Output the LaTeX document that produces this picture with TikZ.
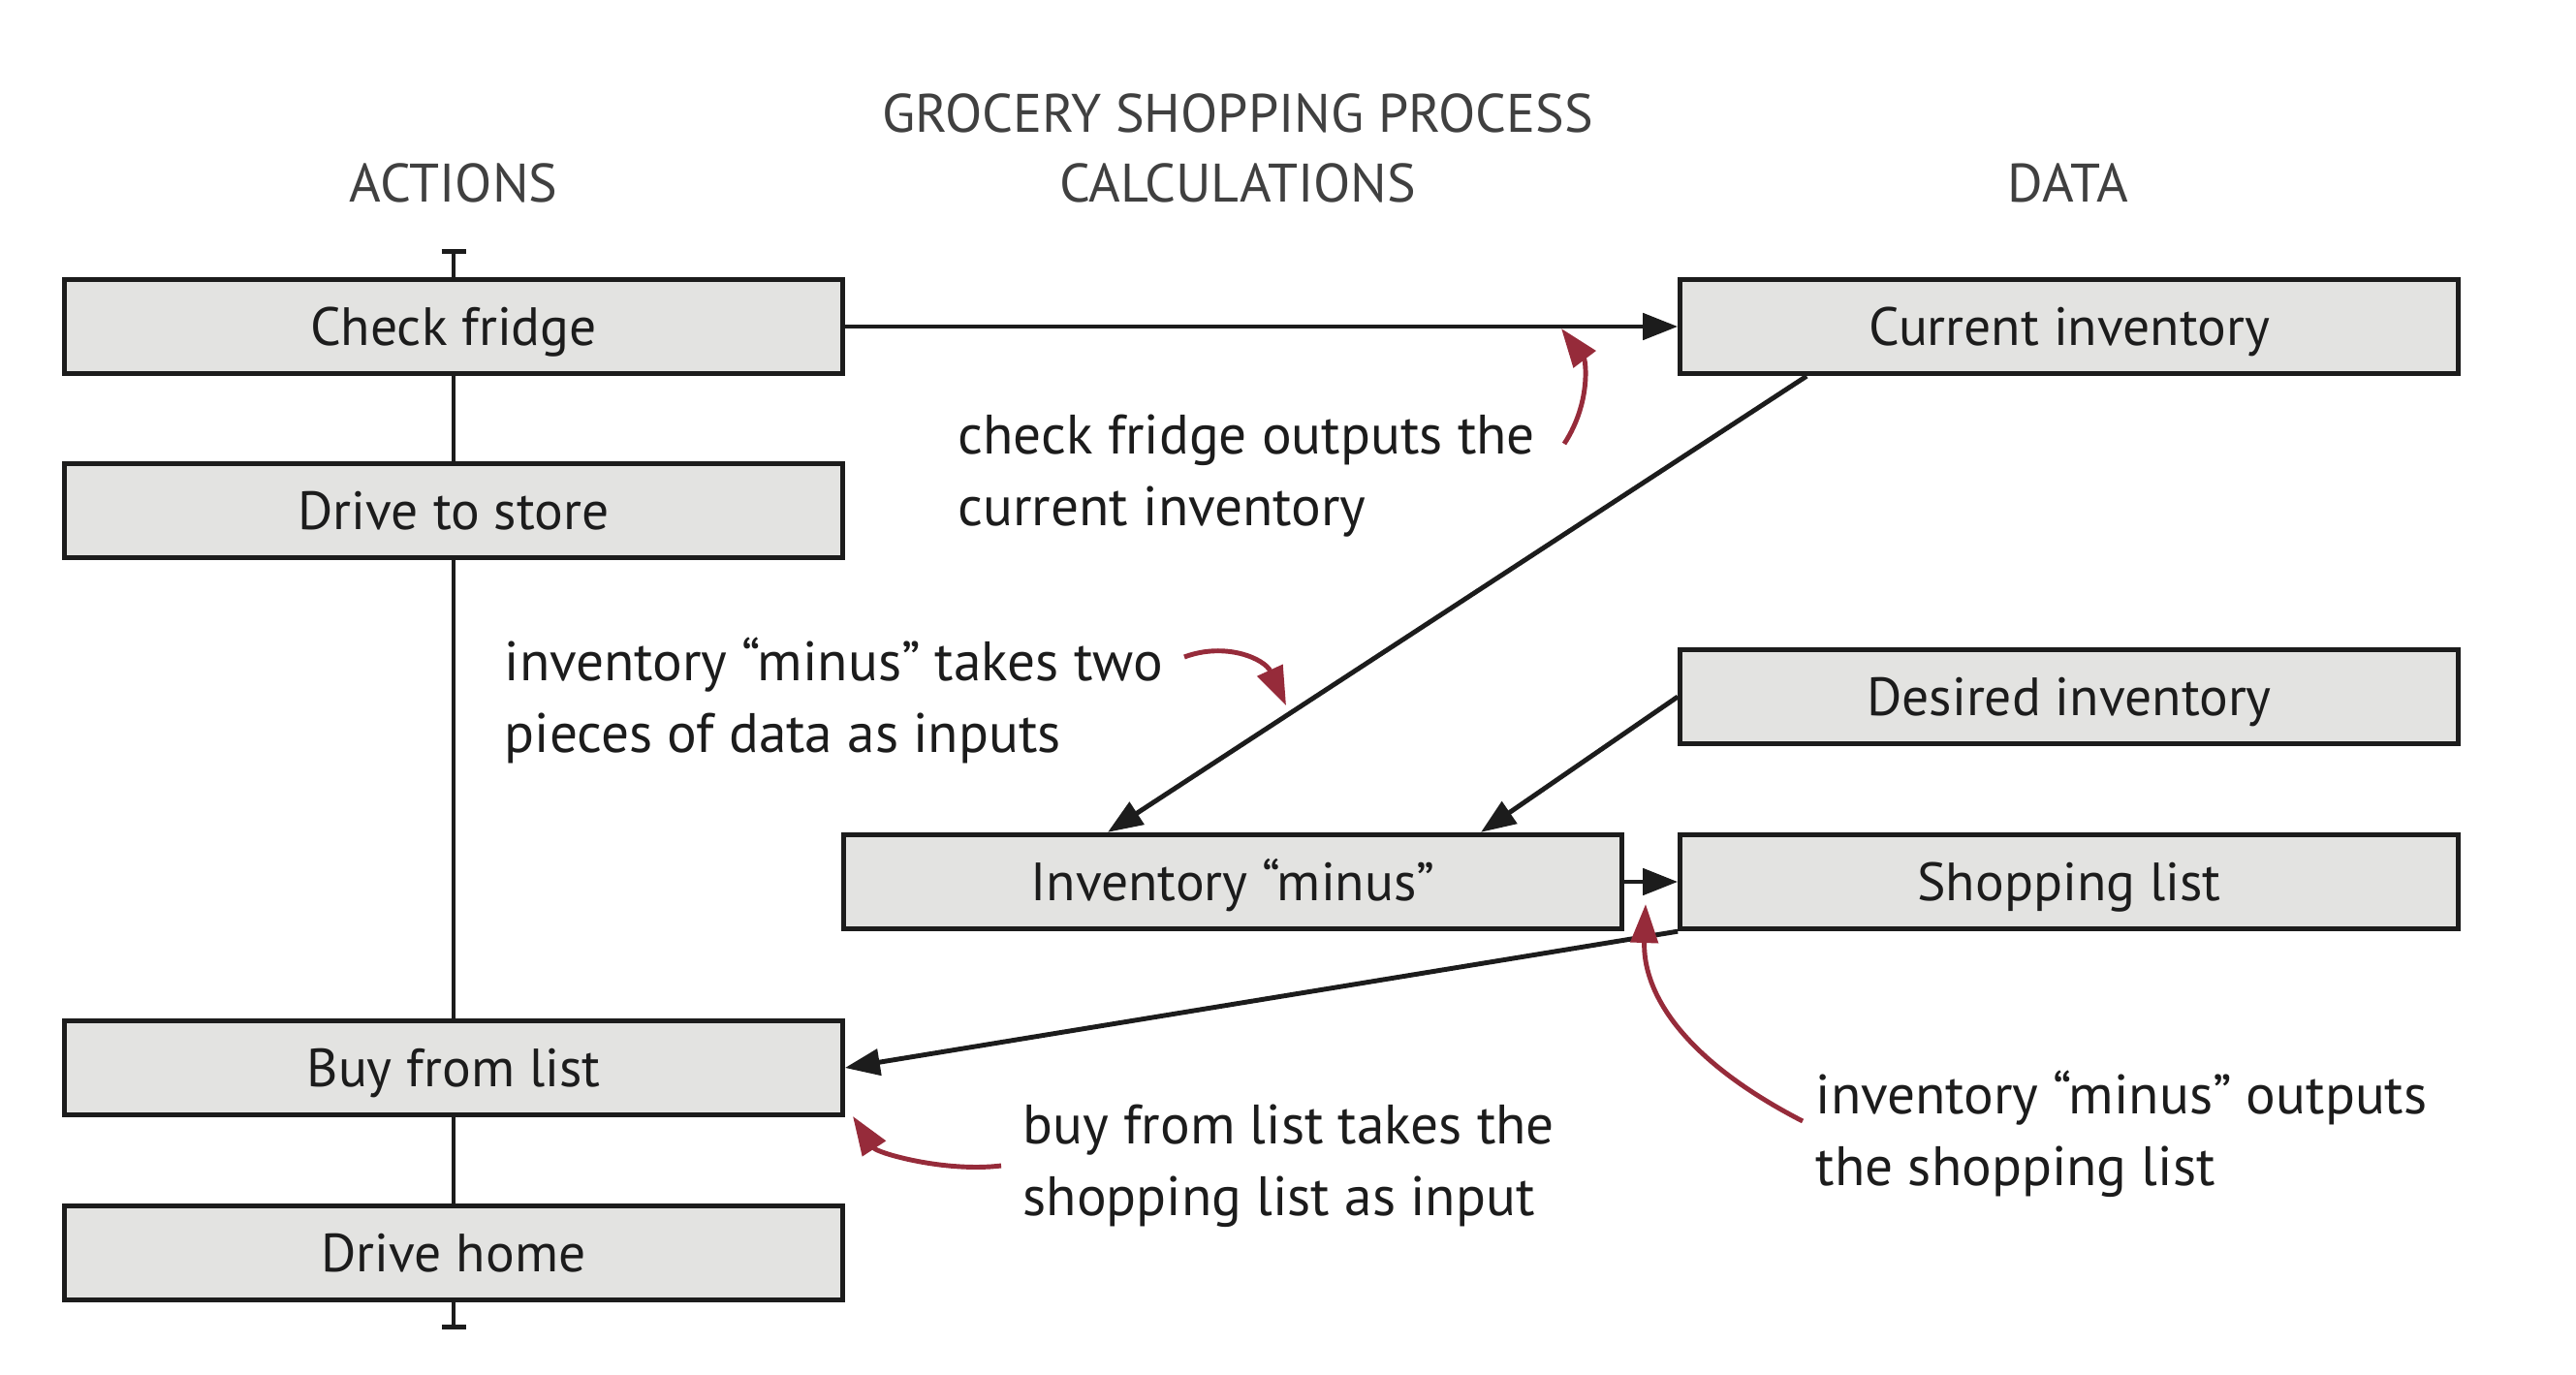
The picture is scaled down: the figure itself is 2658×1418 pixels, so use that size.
\documentclass[tikz,border=0pt]{standalone}
\usepackage{fontspec}
\setmainfont{PT Sans}
\usetikzlibrary{arrows.meta,calc}
\definecolor{boxfill}{HTML}{E3E3E1}
\definecolor{boxline}{HTML}{1C1C1C}
\definecolor{notered}{HTML}{962B3A}
\definecolor{headgray}{HTML}{404040}
\begin{document}
\begin{tikzpicture}[x=0.01cm,y=-0.01cm,
  box/.style={draw=boxline, fill=boxfill, line width=1.5pt, minimum width=8.02cm,
    minimum height=0.97cm, inner sep=0pt, font=\fontsize{15.8}{18}\selectfont,
    text height=11.06pt, text depth=0pt, text=boxline},
  heading/.style={text=headgray, font=\fontsize{15.9}{18}\selectfont, inner sep=0pt},
  conn/.style={draw=boxline, line width=1.4pt},
  arr/.style={conn, -{Triangle[length=0.36cm,width=0.27cm]}},
  annot/.style={font=\fontsize{16.3}{21.2}\selectfont, align=left, anchor=north west,
    inner sep=0pt, text=boxline},
  notearr/.style={draw=notered, line width=1.4pt, -{Triangle[length=0.4cm,width=0.28cm]}}
]
\useasboundingbox (0,0) rectangle (2658,1418);

% headings
\node[heading] (title) at (1277,117) {GROCERY SHOPPING PROCESS};
\node[heading] (hact)  at (468,189)  {ACTIONS};
\node[heading] (hcalc) at (1277,189) {CALCULATIONS};
\node[heading] (hdata) at (2134,189) {DATA};

% boxes
\node[box] (cf)      at (468,337)   {Check fridge};
\node[box] (ds)      at (468,527)   {Drive to store};
\node[box] (buy)     at (468,1102)  {Buy from list};
\node[box] (home)    at (468,1293)  {Drive home};
\node[box] (curinv)  at (2135,337)  {Current inventory};
\node[box] (desired) at (2135,719)  {Desired inventory};
\node[box] (shop)    at (2135,910)  {Shopping list};
\node[box] (minus)   at (1272,910)  {Inventory “minus”};

% action line
\coordinate (atop) at (468,257);
\coordinate (abot) at (468,1372);
\draw[conn, {Bar[width=0.25cm]}-] (atop) -- (cf);
\draw[conn] (cf) -- (ds);
\draw[conn] (ds) -- (buy);
\draw[conn] (buy) -- (home);
\draw[conn, -{Bar[width=0.25cm]}] (home) -- (abot);

% data flow
\draw[arr] (cf) -- (curinv);
\draw[arr] ($(curinv.south west)+(133,0)$) -- ($(minus.north)+(-129,0)$);
\draw[arr] (desired.west) -- ($(minus.north)+(256,0)$);
\draw[arr] (minus) -- (shop);
\draw[arr] (shop.south west) -- (buy.east);

% annotations
\node[annot] (n1) at (988,427)  {check fridge outputs the\\current inventory};
\node[annot] (n2) at (520,657)  {inventory “minus” takes two\\pieces of data as inputs};
\node[annot] (n3) at (1055,1139) {buy from list takes the\\shopping list as input};
\node[annot] (n4) at (1873,1104) {inventory “minus” outputs\\the shopping list};

\coordinate (a1s) at (1614,458);  \coordinate (a1e) at (1611,339);
\coordinate (a2s) at (1222,678);  \coordinate (a2e) at (1327,728);
\coordinate (a3s) at (1033,1203); \coordinate (a3e) at (880,1152);
\coordinate (a4s) at (1860,1157); \coordinate (a4e) at (1698,933);
\draw[notearr] (a1s) .. controls (1642,415) and (1636,372) .. (a1e);
\draw[notearr] (a2s) .. controls (1265,662) and (1305,680) .. (a2e);
\draw[notearr] (a3s) .. controls (975,1210) and (905,1190) .. (a3e);
\draw[notearr] (a4s) .. controls (1730,1090) and (1695,1020) .. (a4e);
\end{tikzpicture}
\end{document}
